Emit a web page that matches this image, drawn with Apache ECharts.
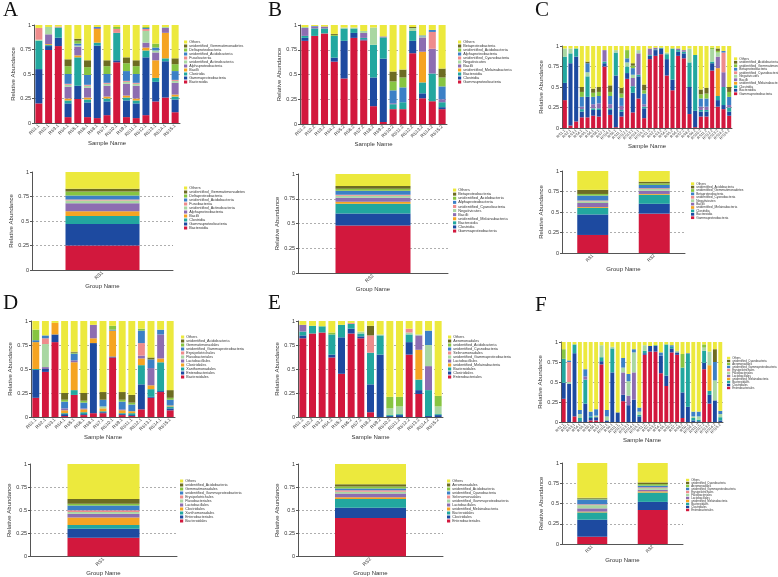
<!DOCTYPE html>
<html><head><meta charset="utf-8">
<script src="https://cdn.jsdelivr.net/npm/echarts@6/dist/echarts.min.js"></script>
<style>
html,body{margin:0;padding:0;background:#fff;width:778px;height:577px;overflow:hidden;position:relative}
.c{position:absolute;left:0;top:0;width:778px;height:577px}
</style></head><body>
<script>
// stack order bottom -> top: red, dark blue, teal, orange, purple, light green, pink, blue, green, olive, Others
const COLORS = ['#D2183D','#1D4AA0','#22A79F','#F5A422','#8D6DB1','#A9D7A2','#EE8C8C','#3C80C6','#87C541','#6D6C22','#ECE93D'];

const A_taxa = ['Bacteroidia','Gammaproteobacteria','Clostridia','Bacilli','Alphaproteobacteria','unidentified_Actinobacteria','Fusobacteriia','unidentified_Acidobacteria','Deltaproteobacteria','unidentified_Gemmatimonadetes','Others'];
const B_taxa = ['Gammaproteobacteria','Clostridia','Bacteroidia','unidentified_Melainabacteria','Bacilli','Negativicutes','unidentified_Cyanobacteria','Alphaproteobacteria','unidentified_Acidobacteria','Betaproteobacteria','Others'];
const C_taxa = ['Gammaproteobacteria','Bacteroidia','Clostridia','unidentified_Melainabacteria','Bacilli','Negativicutes','unidentified_Cyanobacteria','Betaproteobacteria','unidentified_Gemmatimonadetes','unidentified_Acidobacteria','Others'];
const D_taxa = ['Bacteroidales','Enterobacteriales','Xanthomonadales','Clostridiales','Lactobacillales','Flavobacteriales','Erysipelotrichales','unidentified_Gammaproteobacteria','Gemmatimonadales','unidentified_Acidobacteria','Others'];
const E_taxa = ['Enterobacteriales','Clostridiales','Bacteroidales','unidentified_Melainabacteria','Lactobacillales','unidentified_Gammaproteobacteria','Selenomonadales','unidentified_Cyanobacteria','unidentified_Acidobacteria','Aeromonadales','Others'];
const F_taxa = ['Enterobacteriales','Clostridiales','Bacteroidales','unidentified_Melainabacteria','Lactobacillales','Flavobacteriales','Erysipelotrichales','unidentified_Gammaproteobacteria','Aeromonadales','unidentified_Cyanobacteria','Others'];

const A_samples = ['RS1.1','RS2.1','RS3.1','RS4.1','RS5.1','RS6.1','RS8.1','RS7.1','RS10.1','RS9.1','RS11.1','RS12.1','RS13.1','RS14.1','RS15.1'];
const B_samples = ['RS1.2','RS2.2','RS3.2','RS4.2','RS5.2','RS6.2','RS7.2','RS8.2','RS9.2','RS10.2','RS11.2','RS12.2','RS13.2','RS14.2','RS15.2'];
const C_samples = ['RS1.1','RS2.1','RS3.1','RS4.1','RS5.1','RS6.1','RS8.1','RS7.1','RS10.1','RS9.1','RS11.1','RS12.1','RS13.1','RS14.1','RS15.1','RS1.2','RS2.2','RS3.2','RS4.2','RS5.2','RS6.2','RS7.2','RS8.2','RS9.2','RS10.2','RS11.2','RS12.2','RS13.2','RS14.2','RS15.2'];
const D_samples = ['RS1.1','RS2.1','RS3.1','RS4.1','RS5.1','RS6.1','RS8.1','RS7.1','RS10.1','RS9.1','RS11.1','RS12.1','RS13.1','RS14.1','RS15.1'];
const E_samples = ['RS1.2','RS2.2','RS3.2','RS4.2','RS5.2','RS6.2','RS7.2','RS8.2','RS9.2','RS10.2','RS11.2','RS12.2','RS13.2','RS14.2','RS15.2'];
const F_samples = ['RS1.1','RS2.1','RS3.1','RS4.1','RS5.1','RS6.1','RS8.1','RS7.1','RS10.1','RS9.1','RS11.1','RS12.1','RS13.1','RS14.1','RS15.1','RS1.2','RS2.2','RS3.2','RS4.2','RS5.2','RS6.2','RS7.2','RS8.2','RS9.2','RS10.2','RS11.2','RS12.2','RS13.2','RS14.2','RS15.2'];
const A_groups = ['RS1'];
const B_groups = ['RS2'];
const C_groups = ['RS1','RS2'];
const D_groups = ['RS1'];
const E_groups = ['RS2'];
const F_groups = ['RS1','RS2'];
const Y_ticks = [0, 0.25, 0.5, 0.75, 1];

const A_values = [
 [.20,.35,.29,0,0,.01,.12,0,0,0,.03],
 [.745,.04,.01,.01,.10,.075,0,0,0,0,.02],
 [.785,.085,.105,0,0,0,.01,0,0,0,.015],
 [.06,.14,.03,.02,.12,.02,.01,.10,.08,.07,.35],
 [.245,.135,.29,.02,.09,.01,0,.02,.03,.02,.14],
 [.06,.15,.03,.02,.10,.02,.01,.10,.08,.07,.36],
 [.05,.74,.03,.14,.01,0,0,.01,0,0,.02],
 [.08,.14,.03,.02,.11,.02,.01,.09,.08,.06,.36],
 [.62,.02,.28,0,0,0,.04,0,.02,0,.02],
 [.06,.17,.03,.02,.12,.02,.01,.10,.08,.06,.33],
 [.05,.15,.03,.02,.13,.02,.01,.09,.08,.06,.36],
 [.08,.59,.07,.03,.05,.12,.02,.01,.01,0,.02],
 [.22,.20,.04,.18,.08,.02,0,.03,.04,0,.19],
 [.26,.37,.03,.26,.05,.01,0,0,0,0,.02],
 [.11,.13,.03,.02,.12,.02,.01,.09,.07,.06,.34]
];
const A_group_values = [[.25,.22,.08,.05,.08,.03,.01,.04,.04,.03,.17]];

const B_values = [
 [.84,.03,.02,0,.08,.01,0,0,0,0,.02],
 [.89,0,.075,0,.02,0,0,.005,0,0,.01],
 [.915,0,.05,0,.02,0,0,0,0,0,.015],
 [.63,.04,.22,0,0,0,0,0,.01,.01,.09],
 [.46,.38,.125,0,0,.01,0,0,0,0,.025],
 [.87,.05,.045,0,0,.01,0,0,0,0,.025],
 [.845,.01,.015,0,.05,.02,0,0,0,0,.06],
 [.18,.29,.33,0,0,.175,0,0,0,0,.025],
 [.02,.64,.215,0,.01,0,0,0,0,0,.115],
 [.15,0,.05,0,.01,0,0,.13,.09,.10,.47],
 [.15,0,.07,0,0,0,0,.15,.10,.08,.45],
 [.715,.125,.10,0,0,.03,0,0,0,.01,.02],
 [.26,.05,.11,.31,.145,.01,0,.01,0,0,.105],
 [.23,0,.28,0,.25,0,.17,.02,0,0,.05],
 [.15,.02,.05,0,.03,0,0,.13,.09,.09,.44]
];
const B_group_values = [[.48,.12,.10,.02,.04,.02,.01,.04,.02,.03,.12]];

const C_values = [
 [.34,.21,.32,0,0,.10,0,0,0,0,.03],
 [.03,.76,.12,0,0,.06,0,0,0,0,.03],
 [.08,.79,.10,0,0,0,0,0,0,0,.03],
 [.13,.07,.03,0,.03,0,0,.12,.06,.06,.50],
 [.13,.25,.25,0,0,.05,0,.11,0,.02,.19],
 [.15,.07,.02,0,.05,0,0,.09,.05,.05,.52],
 [.14,.08,.02,0,.06,0,0,.09,.05,.06,.50],
 [.75,.04,.02,0,.14,0,0,0,0,0,.05],
 [.16,.06,.02,0,.05,0,0,.10,.05,.08,.48],
 [.01,.63,.28,0,0,.03,0,0,0,0,.05],
 [.14,.06,.02,0,.05,0,0,.10,.05,.07,.51],
 [.60,.07,.08,0,0,.05,0,.05,.10,0,.05],
 [.19,.24,.08,0,.10,.04,0,.08,.03,.03,.21],
 [.36,.27,.02,0,.26,.04,0,0,0,0,.05],
 [.12,.12,.02,0,.03,0,0,.13,.04,.07,.47],
 [.84,.04,.01,0,.08,0,0,0,0,0,.03],
 [.88,.07,.01,0,.02,0,0,0,0,0,.02],
 [.90,.07,.01,0,0,0,0,0,0,0,.02],
 [.64,.20,.06,0,0,.02,0,0,0,0,.08],
 [.46,.13,.38,0,0,0,0,0,0,0,.03],
 [.88,.05,.02,0,.02,0,0,0,0,0,.03],
 [.85,.06,.02,0,.02,0,0,0,0,0,.05],
 [.17,.33,.30,0,0,.17,0,0,0,0,.03],
 [.01,.20,.68,0,0,0,0,0,0,0,.11],
 [.14,.06,.02,0,.04,0,0,.10,.05,.06,.53],
 [.14,.06,.02,0,.04,0,0,.10,.06,.07,.51],
 [.70,.09,.02,0,0,.15,0,0,.02,0,.02],
 [.26,.08,.05,.34,.14,.05,0,0,.02,.03,.03],
 [.23,.05,.22,0,.18,0,.24,.02,0,0,.06],
 [.15,.05,.05,0,.03,0,0,.10,.06,.06,.50]
];
const C_group_values = [
 [.22,.25,.08,.01,.05,.02,.01,.06,.02,.05,.23],
 [.48,.12,.11,.01,.04,.02,.01,.04,.02,.02,.13]
];

const D_values = [
 [.20,.29,.01,.28,0,0,0,.02,.11,0,.09],
 [.47,.03,0,0,.02,.24,.06,.03,0,0,.15],
 [.78,.08,0,.12,0,0,0,0,0,0,.02],
 [.01,.02,.01,.03,.02,0,0,.07,.02,.07,.75],
 [.23,0,.05,.29,.02,0,0,.07,.01,.01,.32],
 [.02,.01,.02,.03,.01,0,0,.06,.02,.08,.75],
 [.04,.73,0,.05,.14,0,0,0,0,0,.04],
 [.04,.01,.01,.03,0,.02,0,.07,0,.08,.74],
 [.62,.01,0,.27,0,0,0,.01,.04,0,.05],
 [.02,.01,.01,.03,.01,0,0,.08,.02,.08,.74],
 [.01,.01,.02,.02,0,0,0,.07,.02,.08,.77],
 [.08,.26,.20,.07,.03,0,.13,.13,.02,0,.08],
 [.20,.01,.08,.04,.18,0,0,.09,0,.02,.38],
 [.26,.01,.30,.04,.25,0,0,.05,0,0,.09],
 [.07,.02,.02,.01,0,0,0,.06,.02,.08,.72]
];
const D_group_values = [[.20,.10,.04,.08,.04,.02,.02,.05,.02,.05,.38]];

const E_values = [
 [.82,.03,.04,0,.07,0,0,0,0,0,.04],
 [.87,0,.08,0,0,0,0,0,0,0,.05],
 [.88,0,.065,0,0,0,0,0,0,0,.055],
 [.62,.03,.21,0,0,0,0,0,.02,0,.12],
 [.45,.38,.13,0,0,0,0,0,0,0,.04],
 [.87,.05,.05,0,0,0,.01,0,0,0,.02],
 [.82,.02,.03,0,0,.02,0,0,0,0,.11],
 [.05,.29,.33,0,0,0,.18,0,0,.10,.05],
 [0,.65,.20,0,0,.01,0,0,0,0,.14],
 [0,.01,.01,0,0,.07,0,0,.12,0,.79],
 [0,.02,.01,0,0,.08,0,0,.10,0,.79],
 [.65,.13,.08,0,0,.02,.04,0,0,0,.08],
 [.24,.04,.11,.31,.15,.01,0,0,0,0,.14],
 [0,.01,.27,0,.25,.22,0,.15,0,0,.10],
 [0,.02,.01,0,0,.08,0,0,.11,0,.78]
];
const E_group_values = [[.415,.11,.095,.02,.04,.02,.015,.02,.02,.025,.22]];

const F_values = [
 [.29,.20,.30,0,0,0,0,0,.12,0,.09],
 [0,.48,0,0,0,.02,.25,.02,0,0,.23],
 [.07,.79,.11,0,0,0,0,0,0,0,.03],
 [0,.01,.04,0,0,.05,0,.05,0,0,.85],
 [0,.23,.30,0,.04,0,0,.09,0,0,.34],
 [.02,.03,.02,0,0,0,0,.06,0,0,.87],
 [.02,.04,0,0,0,.02,0,.08,0,0,.84],
 [.72,.04,.05,0,0,.15,0,0,0,0,.04],
 [0,.02,0,0,0,.05,0,.08,0,0,.85],
 [0,.62,.30,0,0,.02,0,0,0,0,.06],
 [0,.12,0,0,0,0,0,0,0,0,.88],
 [.26,.08,0,0,.28,.06,0,.12,0,0,.20],
 [0,.21,0,0,.12,.18,0,.09,0,0,.40],
 [0,.28,0,0,.34,.25,0,.04,0,0,.09],
 [0,.07,.02,0,0,.04,0,.05,0,0,.82],
 [.84,.02,.03,0,0,.07,0,0,0,0,.04],
 [.88,.07,0,0,0,0,0,0,0,0,.05],
 [.88,.07,.01,0,0,0,0,0,0,0,.04],
 [.61,.22,0,0,0,0,0,.04,0,0,.13],
 [.45,.13,.39,0,0,0,0,0,0,0,.03],
 [.87,.05,.02,0,0,0,0,.02,0,0,.04],
 [.84,.03,0,0,0,.02,0,0,0,0,.11],
 [.05,.32,.31,0,0,0,0,0,.17,0,.15],
 [0,.19,.66,0,0,0,0,.01,0,0,.14],
 [0,.02,.03,0,0,.02,0,.06,0,0,.87],
 [0,.01,.02,0,0,.04,0,.06,0,0,.87],
 [.66,.08,.15,0,0,.04,0,0,.04,0,.03],
 [.23,.11,.05,.32,0,.17,0,0,0,0,.12],
 [0,.27,0,0,0,.25,0,.23,0,.16,.09],
 [0,.02,.04,0,0,.04,0,.04,0,0,.86]
];
const F_group_values = [
 [.09,.21,.09,.01,.04,.04,.01,.06,.01,.01,.43],
 [.42,.10,.115,.015,.02,.02,.01,.02,.02,.02,.24]
];

// layout: grid [left, top, width, height], legend [left, firstTop, step]
const PANELS = [
 {cats:A_samples, rows:A_values, taxa:A_taxa, xName:'Sample Name', grid:[34,25,146,98], legend:[184,40,3.9], xGap:14, yGap:16, lab:4.6, letter:['A',3,0]},
 {cats:A_groups, rows:A_group_values, taxa:A_taxa, xName:'Group Name', grid:[32,172,141,98], legend:[184,186,4.0], xGap:9, yGap:15, lab:5, barWidth:74},
 {cats:B_samples, rows:B_values, taxa:B_taxa, xName:'Sample Name', grid:[300,25,147,99], legend:[458,40,4.0], xGap:15, yGap:14, lab:4.6, letter:['B',268,0]},
 {cats:B_groups, rows:B_group_values, taxa:B_taxa, xName:'Group Name', grid:[298,174,150,99], legend:[453,188,4.1], xGap:8, yGap:13, lab:5, barWidth:75},
 {cats:C_samples, rows:C_values, taxa:C_taxa, xName:'Sample Name', grid:[562,46,170,82], legend:[734,57,3.5], xGap:14, yGap:12, lab:3.8, letter:['C',535,0]},
 {cats:C_groups, rows:C_group_values, taxa:C_taxa, xName:'Group Name', grid:[562,171,123,82], legend:[691,182,3.4], xGap:7, yGap:12, lab:4.5, barWidth:31},
 {cats:D_samples, rows:D_values, taxa:D_taxa, xName:'Sample Name', grid:[31,321,144,96], legend:[181,335,3.9], xGap:14, yGap:13, lab:4.6, letter:['D',3,293]},
 {cats:D_groups, rows:D_group_values, taxa:D_taxa, xName:'Group Name', grid:[30,464,147,97], legend:[180,479,3.8], xGap:8, yGap:13, lab:5, barWidth:72},
 {cats:E_samples, rows:E_values, taxa:E_taxa, xName:'Sample Name', grid:[298,321,145,96], legend:[448,335,3.9], xGap:14, yGap:13, lab:4.6, letter:['E',268,293]},
 {cats:E_groups, rows:E_group_values, taxa:E_taxa, xName:'Group Name', grid:[298,464,145,97], legend:[447,479,3.8], xGap:8, yGap:13, lab:5, barWidth:71},
 {cats:F_samples, rows:F_values, taxa:F_taxa, xName:'Sample Name', grid:[561,342,162,80], legend:[727,356.5,3.0], xGap:13, yGap:12, lab:3.8, letter:['F',535,295]},
 {cats:F_groups, rows:F_group_values, taxa:F_taxa, xName:'Group Name', grid:[562,463,121,81], legend:[686,478.5,3.0], xGap:7, yGap:12, lab:4.5, barWidth:30}
];

const FONT = 'Liberation Sans';
function build(p){
  const el = document.createElement('div'); el.className = 'c'; document.body.appendChild(el);
  const chart = echarts.init(el, null, {renderer:'canvas', width:778, height:577});
  const series = p.taxa.map((name,k)=>({
    name, type:'bar', stack:'total', barWidth:p.barWidth, barCategoryGap:'28%',
    itemStyle:{color:COLORS[k]}, emphasis:{disabled:true},
    data:p.rows.map(r=>r[k])
  }));
  const step = p.legend[2];
  const opt = {
    animation:false,
    grid:{left:p.grid[0], top:p.grid[1], width:p.grid[2], height:p.grid[3], containLabel:false},
    legend:{
      orient:'vertical', left:p.legend[0], top:p.legend[1], padding:0, itemGap:0,
      itemWidth:3.2, itemHeight:Math.min(3, step*0.8), icon:'rect',
      data:p.taxa.slice().reverse(), selectedMode:false,
      textStyle:{fontSize:step*0.95, lineHeight:step, height:step, color:'#333', fontFamily:FONT, padding:[0,0,0,-3]}
    },
    xAxis:{
      type:'category', data:p.cats, name:p.xName, nameLocation:'middle', nameGap:p.xGap,
      nameTextStyle:{fontSize:6, color:'#333', fontFamily:FONT},
      axisLine:{lineStyle:{color:'#555', width:1}}, axisTick:{show:false},
      axisLabel:{interval:0, rotate:45, fontSize:p.lab, margin:2, color:'#333', fontFamily:FONT}
    },
    yAxis:{
      type:'value', min:Y_ticks[0], max:Y_ticks[Y_ticks.length-1], interval:0.25,
      name:'Relative Abundance', nameLocation:'middle', nameGap:p.yGap,
      nameTextStyle:{fontSize:6, color:'#333', fontFamily:FONT},
      axisLine:{show:true, lineStyle:{color:'#555', width:1}},
      axisTick:{show:true, length:2, lineStyle:{color:'#555'}},
      axisLabel:{fontSize:5.5, margin:3, color:'#333', fontFamily:FONT},
      splitLine:{show:true, lineStyle:{type:[2,2], width:0.8, color:['rgba(0,0,0,0)','#9a9a9a','#9a9a9a','#9a9a9a','rgba(0,0,0,0)']}}
    },
    series
  };
  if (p.letter){
    opt.title = {text:p.letter[0], left:p.letter[1], top:p.letter[2], padding:0,
      textStyle:{fontFamily:'Liberation Serif', fontSize:21, fontWeight:'normal', color:'#111'}};
  }
  chart.setOption(opt);
}
PANELS.forEach(build);
</script>
</body></html>
